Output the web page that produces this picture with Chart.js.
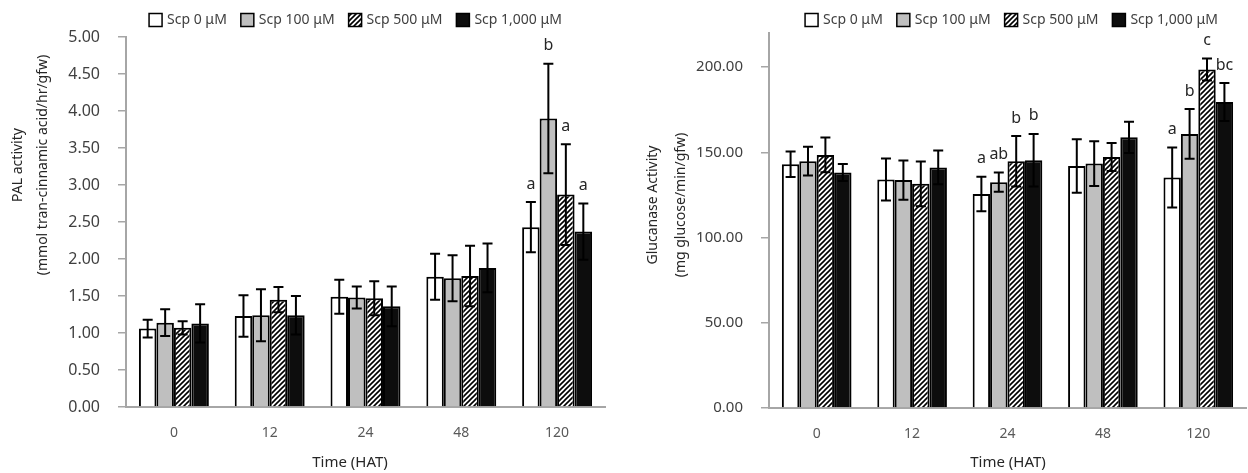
<!DOCTYPE html>
<html>
<head>
<meta charset="utf-8">
<script src="https://cdn.jsdelivr.net/npm/chart.js@4.4.0/dist/chart.umd.min.js"></script>
<style>
    html, body { margin: 0; padding: 0; background: #fff; }
    #wrap { position: relative; width: 1248px; height: 473px; overflow: hidden; }
    #palChart { position: absolute; left: 0; top: 0; }
    #gluChart { position: absolute; left: 620px; top: 0; }
</style>
</head>
<body>
<div id="wrap">
    <canvas id="palChart" width="620" height="473"></canvas>
    <canvas id="gluChart" width="628" height="473"></canvas>
</div>
<script>
// ================================
// DATA
// ================================
const timeLabels = ['0', '12', '24', '48', '120'];
const seriesNames = ['Scp 0 μM', 'Scp 100 μM', 'Scp 500 μM', 'Scp 1,000 μM'];

// PAL activity (mmol tran-cinnamic acid/hr/gfw)
const palScp0 = [1.06, 1.23, 1.49, 1.76, 2.43];
const palScp100 = [1.14, 1.24, 1.48, 1.74, 3.90];
const palScp500 = [1.07, 1.45, 1.47, 1.77, 2.87];
const palScp1000 = [1.13, 1.24, 1.36, 1.88, 2.37];

const palErr0 = [0.12, 0.28, 0.23, 0.31, 0.34];
const palErr100 = [0.18, 0.35, 0.15, 0.31, 0.74];
const palErr500 = [0.09, 0.17, 0.23, 0.41, 0.68];
const palErr1000 = [0.26, 0.26, 0.27, 0.33, 0.38];

const palLetters0 = ['', '', '', '', 'a'];
const palLetters100 = ['', '', '', '', 'b'];
const palLetters500 = ['', '', '', '', 'a'];
const palLetters1000 = ['', '', '', '', 'a'];

const palTickMax = 5;
const palTickStep = 0.5;

// Glucanase activity (mg glucose/min/gfw)
const gluScp0 = [143.0, 134.1, 125.5, 142.0, 135.2];
const gluScp100 = [144.8, 133.7, 132.5, 143.4, 160.8];
const gluScp500 = [148.5, 131.5, 144.8, 147.3, 198.6];
const gluScp1000 = [138.2, 141.1, 145.4, 158.8, 179.5];

const gluErr0 = [7.5, 12.3, 10.1, 15.7, 17.6];
const gluErr100 = [8.4, 11.5, 5.7, 13.1, 14.6];
const gluErr500 = [10.2, 13.1, 14.8, 8.2, 6.5];
const gluErr1000 = [5.0, 9.9, 15.4, 9.2, 11.1];

const gluLetters0 = ['', '', 'a', '', 'a'];
const gluLetters100 = ['', '', 'ab', '', 'b'];
const gluLetters500 = ['', '', 'b', '', 'c'];
const gluLetters1000 = ['', '', 'b', '', 'bc'];

const gluAxisMax = 220;
const gluTickMax = 200;
const gluTickStep = 50;

// ================================
// STYLE
// ================================
const FONT = '"Noto Sans", sans-serif';
const AXIS = '#a6a6a6';
const TEXT = '#262626';

function makeHatch() {
    const c = document.createElement('canvas');
    c.width = 5;
    c.height = 5;
    const g = c.getContext('2d');
    g.fillStyle = '#fff';
    g.fillRect(0, 0, 5, 5);
    g.strokeStyle = '#000';
    g.lineWidth = 1.6;
    g.beginPath();
    g.moveTo(-1, 6); g.lineTo(6, -1);
    g.moveTo(-1, 1); g.lineTo(1, -1);
    g.moveTo(4, 6); g.lineTo(6, 4);
    g.stroke();
    return g.createPattern(c, 'repeat');
}

const fills = ['#ffffff', '#bfbfbf', makeHatch(), '#0d0d0d'];

function buildDatasets(means, errs, letters) {
    return means.map((data, i) => ({
        label: seriesNames[i],
        data,
        errors: errs[i],
        letters: letters[i],
        backgroundColor: fills[i],
        borderColor: '#000',
        borderWidth: 2,
        categoryPercentage: 0.73,
        barPercentage: 1.0
    }));
}

// ================================
// DRAW HELPERS
// ================================
function drawErrorBars(chart) {
    const ctx = chart.ctx;
    const y = chart.scales.y;
    ctx.save();
    ctx.strokeStyle = '#000';
    ctx.lineWidth = 2;
    chart.data.datasets.forEach((ds, di) => {
        chart.getDatasetMeta(di).data.forEach((bar, i) => {
            const v = ds.data[i];
            const e = ds.errors[i];
            const top = y.getPixelForValue(v + e);
            const bot = y.getPixelForValue(v - e);
            ctx.beginPath();
            ctx.moveTo(bar.x, top); ctx.lineTo(bar.x, bot);
            ctx.moveTo(bar.x - 5, top); ctx.lineTo(bar.x + 5, top);
            ctx.moveTo(bar.x - 5, bot); ctx.lineTo(bar.x + 5, bot);
            ctx.stroke();
        });
    });
    ctx.restore();
}

function drawLetters(chart) {
    const ctx = chart.ctx;
    const y = chart.scales.y;
    ctx.save();
    ctx.font = '16px ' + FONT;
    ctx.fillStyle = TEXT;
    ctx.textAlign = 'center';
    ctx.textBaseline = 'middle';
    chart.data.datasets.forEach((ds, di) => {
        chart.getDatasetMeta(di).data.forEach((bar, i) => {
            const txt = ds.letters[i];
            if (!txt) return;
            const top = y.getPixelForValue(ds.data[i] + ds.errors[i]);
            ctx.fillText(txt, bar.x, top - 18);
        });
    });
    ctx.restore();
}

function drawLegend(chart, shift) {
    const ctx = chart.ctx;
    const area = chart.chartArea;
    const box = 13, gapText = 5, gapItem = 14;
    ctx.save();
    ctx.font = '14px ' + FONT;
    const items = chart.data.datasets.map(ds => ({
        ds,
        w: box + gapText + ctx.measureText(ds.label).width
    }));
    const total = items.reduce((s, it) => s + it.w, 0) + gapItem * (items.length - 1);
    let x = (area.left + area.right) / 2 + shift - total / 2;
    const cy = 20;
    items.forEach(it => {
        ctx.fillStyle = it.ds.backgroundColor;
        ctx.fillRect(x, cy - box / 2, box, box);
        ctx.strokeStyle = '#000';
        ctx.lineWidth = 1.5;
        ctx.strokeRect(x, cy - box / 2, box, box);
        ctx.fillStyle = '#404040';
        ctx.textAlign = 'left';
        ctx.textBaseline = 'middle';
        ctx.fillText(it.ds.label, x + box + gapText, cy);
        x += it.w + gapItem;
    });
    ctx.restore();
}

function drawTitles(chart, cfg) {
    const ctx = chart.ctx;
    ctx.save();
    ctx.fillStyle = TEXT;
    ctx.textAlign = 'center';
    ctx.textBaseline = 'middle';
    ctx.font = '14px ' + FONT;
    cfg.yTitle.forEach((line, i) => {
        ctx.save();
        ctx.translate(cfg.yTitleX[i], cfg.yTitleY);
        ctx.rotate(-Math.PI / 2);
        ctx.fillText(line, 0, 0);
        ctx.restore();
    });
    ctx.font = '15px ' + FONT;
    ctx.fillText('Time (HAT)', cfg.xTitleX, 463);
    ctx.restore();
}

function decorations(cfg) {
    return {
        id: 'decorations',
        afterDatasetsDraw(chart) {
            drawErrorBars(chart);
            drawLetters(chart);
        },
        afterDraw(chart) {
            drawLegend(chart, cfg.legendShift);
            drawTitles(chart, cfg);
        }
    };
}

// ================================
// CHART BUILDER
// ================================
function makeChart(id, datasets, cfg) {
    return new Chart(document.getElementById(id), {
        type: 'bar',
        data: { labels: timeLabels, datasets },
        options: {
            responsive: false,
            animation: false,
            layout: { padding: { top: cfg.top, right: cfg.right, left: 0, bottom: 0 } },
            plugins: { legend: { display: false }, tooltip: { enabled: false } },
            scales: {
                x: {
                    grid: { display: false, drawTicks: false },
                    border: { color: AXIS, width: 2 },
                    ticks: { color: '#595959', font: { family: FONT, size: 14 }, padding: 18 },
                    afterFit: s => { s.height = cfg.xHeight; }
                },
                y: {
                    min: 0,
                    max: cfg.max,
                    ticks: {
                        stepSize: cfg.step,
                        color: '#404040',
                        font: { family: FONT, size: cfg.tickSize },
                        padding: 18,
                        callback: v => Number(v).toFixed(2)
                    },
                    grid: { drawOnChartArea: false, tickLength: 8, color: AXIS, lineWidth: 1.5 },
                    border: { color: AXIS, width: 2 },
                    afterFit: s => { s.width = cfg.yWidth; },
                    afterBuildTicks: s => {
                        s.ticks = s.ticks.filter(t => t.value <= cfg.lastTick + 1e-9);
                    }
                }
            }
        },
        plugins: [decorations(cfg)]
    });
}

// ================================
// INIT
// ================================
makeChart('palChart',
    buildDatasets(
        [palScp0, palScp100, palScp500, palScp1000],
        [palErr0, palErr100, palErr500, palErr1000],
        [palLetters0, palLetters100, palLetters500, palLetters1000]
    ),
    {
        top: 37, right: 15, yWidth: 126, xHeight: 66,
        max: palTickMax, step: palTickStep, lastTick: palTickMax, tickSize: 16,
        legendShift: -10,
        yTitle: ['PAL activity', '(mmol tran-cinnamic acid/hr/gfw)'],
        yTitleX: [18, 43], yTitleY: 165,
        xTitleX: 350
    }
);

makeChart('gluChart',
    buildDatasets(
        [gluScp0, gluScp100, gluScp500, gluScp1000],
        [gluErr0, gluErr100, gluErr500, gluErr1000],
        [gluLetters0, gluLetters100, gluLetters500, gluLetters1000]
    ),
    {
        top: 33, right: 2, yWidth: 149, xHeight: 65,
        max: gluAxisMax, step: gluTickStep, lastTick: gluTickMax, tickSize: 15,
        legendShift: 4,
        yTitle: ['Glucanase Activity', '(mg glucose/min/gfw)'],
        yTitleX: [33, 61], yTitleY: 205,
        xTitleX: 388
    }
);
</script>
</body>
</html>
